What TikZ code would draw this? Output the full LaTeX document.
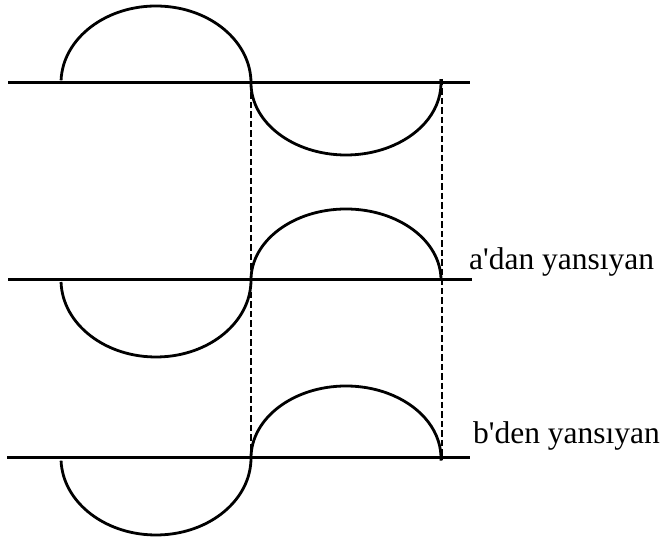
\documentclass[tikz,border=0pt]{standalone}
\usepackage{fontspec}
\newfontfamily\labfont{Liberation Serif}
\tikzset{
  baseline/.style={line width=3pt},
  wave/.style={line width=2.8pt},
  guide/.style={line width=2pt, dash pattern=on 6.5pt off 3pt},
  lab/.style={anchor=base west, inner sep=0pt, font=\labfont\fontsize{31.5}{36}\selectfont}
}
\begin{document}
\begin{tikzpicture}[x=1pt,y=1pt]
\useasboundingbox (0,0) rectangle (665,543);
% reference lines
\coordinate (l1a) at (8,460);   \coordinate (l1b) at (470,460);
\coordinate (l2a) at (8,263);   \coordinate (l2b) at (472,263);
\coordinate (l3a) at (7,85);    \coordinate (l3b) at (470,85);
\draw[baseline] (l1a) -- (l1b);
\draw[baseline] (l2a) -- (l2b);
\draw[baseline] (l3a) -- (l3b);
% dashed guides
\coordinate (d1t) at (251,460); \coordinate (d1b) at (251,83);
\coordinate (d2t) at (442,464); \coordinate (d2b) at (442,83);
\draw[guide] (d1t) -- (d1b);
\draw[guide] (d2t) -- (d2b);
% top wave
\draw[wave] ([shift={(178:95 and 77)}]156,460) arc[start angle=178, end angle=0, x radius=95, y radius=77]
  arc[start angle=180, end angle=363, x radius=95, y radius=72];
% middle wave
\draw[wave] ([shift={(181.5:95 and 77)}]156,263) arc[start angle=181.5, end angle=360, x radius=95, y radius=77]
  arc[start angle=180, end angle=0, x radius=95, y radius=71];
% bottom wave
\draw[wave] ([shift={(182:95 and 77)}]156,85) arc[start angle=182, end angle=360, x radius=95, y radius=77]
  arc[start angle=180, end angle=-2, x radius=95, y radius=72];
% labels
\node[lab] (la) at (469,273) {a'dan yansıyan};
\node[lab] (lb) at (473,99) {b'den yansıyan};
\end{tikzpicture}
\end{document}
